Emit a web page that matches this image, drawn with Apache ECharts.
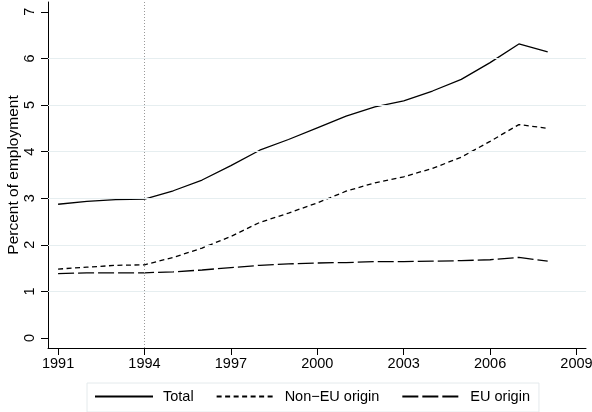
<!DOCTYPE html>
<html>
<head>
<meta charset="utf-8">
<script src="https://cdn.jsdelivr.net/npm/echarts@6/dist/echarts.min.js"></script>
<style>
html,body{margin:0;padding:0;background:#fff;}
#chart{width:592px;height:412px;}
</style>
</head>
<body>
<div id="chart"></div>
<script>
const years = [1991,1992,1993,1994,1995,1996,1997,1998,1999,2000,2001,2002,2003,2004,2005,2006,2007,2008];
const total = [2.87,2.93,2.97,2.98,3.16,3.39,3.70,4.03,4.26,4.51,4.76,4.96,5.09,5.30,5.55,5.91,6.31,6.14];
const nonEU = [1.48,1.52,1.56,1.57,1.73,1.93,2.18,2.48,2.68,2.90,3.15,3.33,3.46,3.64,3.88,4.22,4.58,4.50];
const eu = [1.38,1.40,1.40,1.40,1.42,1.46,1.51,1.56,1.59,1.61,1.62,1.64,1.64,1.65,1.66,1.68,1.73,1.65];
const xTicks = [1991,1994,1997,2000,2003,2006,2009];
const yTicks = [0,1,2,3,4,5,6,7];
const gridYs = [1,2,3,4,5,6];
const reformYear = 1994;

const font = 'Liberation Sans, Arial, Helvetica, sans-serif';
const pairs = a => years.map((y,i)=>[y,a[i]]);

const chart = echarts.init(document.getElementById('chart'), null, {renderer:'canvas'});
chart.setOption({
  animation:false,
  backgroundColor:'#ffffff',
  grid:{left:48, right:6, top:2, bottom:64, containLabel:false, outerBoundsMode:'none'},
  xAxis:{
    type:'value', min:1990.65, max:2009.33,
    axisLine:{show:true, onZero:false, lineStyle:{color:'#000', width:1}},
    axisTick:{show:true, length:7, customValues:xTicks, lineStyle:{color:'#000'}},
    axisLabel:{customValues:xTicks, color:'#000', fontFamily:font, fontSize:14.5, margin:8, formatter:v=>String(v)},
    splitLine:{show:false}
  },
  yAxis:{
    type:'value', min:-0.214, max:7.21,
    name:'Percent of employment', nameLocation:'middle', nameGap:26, nameRotate:90,
    nameMoveOverlap:false,
    nameTextStyle:{color:'#000', fontFamily:font, fontSize:15.5},
    axisLine:{show:true, onZero:false, lineStyle:{color:'#000', width:1}},
    axisTick:{show:true, length:7, customValues:yTicks, lineStyle:{color:'#000'}},
    axisLabel:{customValues:yTicks, rotate:90, color:'#000', fontFamily:font, fontSize:14.5, margin:11, formatter:v=>String(v)},
    splitLine:{show:false}
  },
  legend:{
    data:['Total','Non\u2212EU origin','EU origin'],
    left:87, top:383,
    padding:[6,9,8,7],
    borderColor:'#e4eaec', borderWidth:1, borderRadius:0,
    itemWidth:58, itemHeight:12, itemGap:22,
    itemStyle:{color:'rgba(0,0,0,0)', borderColor:'rgba(0,0,0,0)', borderWidth:0, opacity:0},
    textStyle:{color:'#000', fontFamily:font, fontSize:14.5, padding:[0,0,0,5]}
  },
  series:[
    {
      name:'_grid', type:'line', data:[], z:1, silent:true,
      markLine:{
        silent:true, symbol:'none', label:{show:false},
        lineStyle:{color:'#e6eef0', type:'solid', width:1},
        data:gridYs.map(v=>({yAxis:v})).concat([{xAxis:reformYear, lineStyle:{color:'#999', type:[1,2], width:1}}])
      }
    },
    {name:'Total', type:'line', data:pairs(total), symbol:'none', z:3,
     lineStyle:{color:'#000', width:1.3, type:'solid'}, itemStyle:{color:'#000'}},
    {name:'Non\u2212EU origin', type:'line', data:pairs(nonEU), symbol:'none', z:3,
     lineStyle:{color:'#000', width:1.3, type:[5,3.5]}, itemStyle:{color:'#000'}},
    {name:'EU origin', type:'line', data:pairs(eu), symbol:'none', z:3,
     lineStyle:{color:'#000', width:1.3, type:[16,4]}, itemStyle:{color:'#000'}}
  ]
});
</script>
</body>
</html>
